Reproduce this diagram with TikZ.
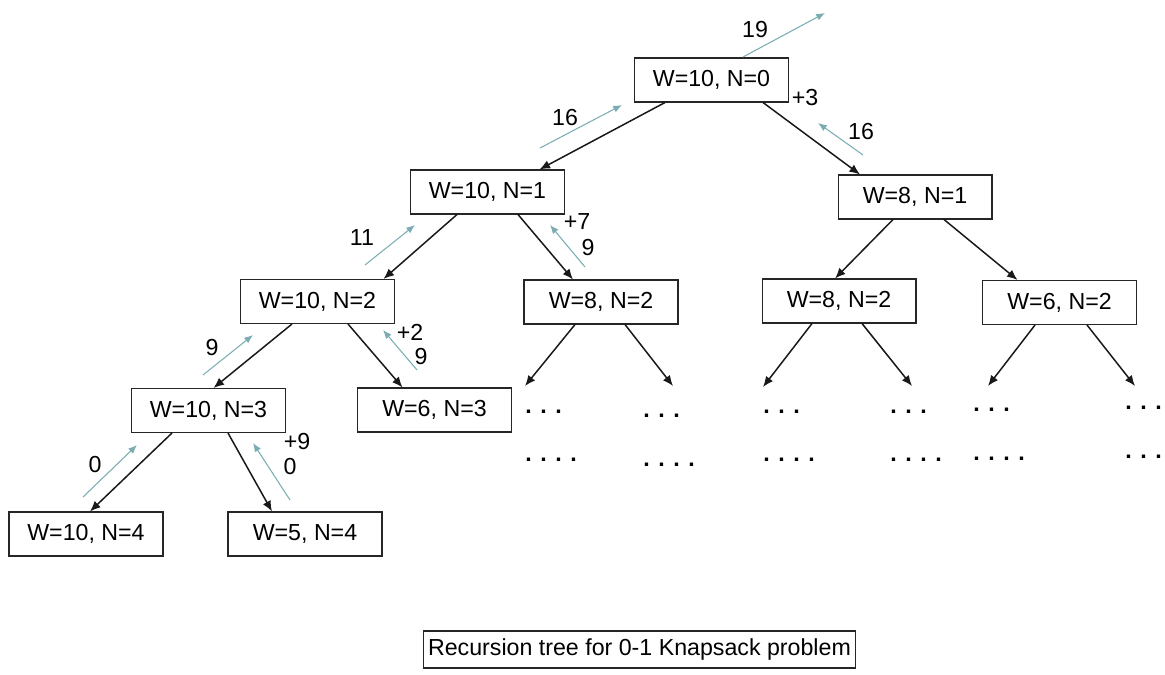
\documentclass[tikz,border=0pt]{standalone}
\usepackage{fontspec}
\setmainfont{Liberation Sans}
\usetikzlibrary{calc,arrows.meta}
\definecolor{backteal}{RGB}{122,172,178}

\begin{document}
\begin{tikzpicture}[x=0.02cm, y=-0.02cm,
    state/.style={draw=black!85, line width=0.6pt, minimum width=3.08cm, minimum height=0.88cm, inner sep=0pt, font=\fontsize{13.2}{16}\selectfont},
    val/.style={inner sep=0pt, font=\fontsize{13.2}{16}\selectfont},
    dots/.style={anchor=base west, inner sep=0pt, font=\fontsize{13.2}{16}\selectfont\bfseries},
    edge/.style={-{Latex[length=6pt,width=5pt]}, line width=0.85pt, black!90},
    back/.style={-{Latex[length=5pt,width=4pt]}, line width=0.6pt, backteal}]
    \useasboundingbox (0,0) rectangle (1165,675);

    \node[state] (root) at (711.5, 80) {W=10, N=0};

    \node[state] (n1l) at (487.5, 192) {W=10, N=1};
    \node[state] (n1r) at (915, 197) {W=8, N=1};

    \node[state] (n2a) at (317.5, 301.5) {W=10, N=2};
    \node[state] (n2b) at (601, 302) {W=8, N=2};
    \node[state] (n2c) at (839, 301) {W=8, N=2};
    \node[state] (n2d) at (1059.5, 302.5) {W=6, N=2};

    \node[state] (n3a) at (208.5, 410.5) {W=10, N=3};
    \node[state] (n3b) at (434.5, 410) {W=6, N=3};

    \node[state] (n4a) at (86, 534) {W=10, N=4};
    \node[state] (n4b) at (305, 534) {W=5, N=4};

    \node[draw=black!85, line width=0.6pt, minimum width=8.66cm, minimum height=0.74cm, val] (caption) at (639.5, 649.5) {Recursion tree for 0-1 Knapsack problem};

    % unexpanded subtrees
    \node[dots] (d1) at (525, 413) {. . .};
    \node[dots] (d2) at (643, 417) {. . .};
    \node[dots] (d3) at (763, 413) {. . .};
    \node[dots] (d4) at (890, 413) {. . .};
    \node[dots] (d5) at (973, 411) {. . .};
    \node[dots] (d6) at (1125, 409) {. . .};
    \node[dots] (e1) at (525, 461) {. . . .};
    \node[dots] (e2) at (643, 466) {. . . .};
    \node[dots] (e3) at (763, 461) {. . . .};
    \node[dots] (e4) at (890, 461) {. . . .};
    \node[dots] (e5) at (973, 460) {. . . .};
    \node[dots] (e6) at (1125, 458) {. . .};

    \coordinate (t1) at (525, 386);
    \coordinate (t2) at (673, 386);
    \coordinate (t3) at (763, 387);
    \coordinate (t4) at (912, 386);
    \coordinate (t5) at (988, 386);
    \coordinate (t6) at (1135, 386);

    % calls
    \draw[edge] ($(root.south)+(-46.5,0)$) -- ($(n1l.north)+(52,0)$);
    \draw[edge] ($(root.south)+(51.5,0)$) -- ($(n1r.north)+(-55,0)$);
    \draw[edge] ($(n1l.south)+(-30.5,0)$) -- ($(n2a.north)+(66,0)$);
    \draw[edge] ($(n1l.south)+(30.5,0)$) -- ($(n2b.north)+(-28,0)$);
    \draw[edge] ($(n1r.south)+(-22,0)$) -- ($(n2c.north)+(-4,0)$);
    \draw[edge] ($(n1r.south)+(29,0)$) -- ($(n2d.north)+(-42,0)$);
    \draw[edge] ($(n2a.south)+(-25.5,0)$) -- ($(n3a.north)+(5,0)$);
    \draw[edge] ($(n2a.south)+(30.5,0)$) -- ($(n3b.north)+(-32,0)$);
    \draw[edge] ($(n3a.south)+(-36.5,0)$) -- ($(n4a.north)+(4,0)$);
    \draw[edge] ($(n3a.south)+(19.5,0)$) -- ($(n4b.north)+(-33,0)$);
    \draw[edge] ($(n2b.south)+(-26,0)$) -- (t1);
    \draw[edge] ($(n2b.south)+(24,0)$) -- (t2);
    \draw[edge] ($(n2c.south)+(-27,0)$) -- (t3);
    \draw[edge] ($(n2c.south)+(23,0)$) -- (t4);
    \draw[edge] ($(n2d.south)+(-24.5,0)$) -- (t5);
    \draw[edge] ($(n2d.south)+(27.5,0)$) -- (t6);

    % returned values
    \coordinate (r0a) at (743, 57);  \coordinate (r0b) at (825, 13);
    \coordinate (r1a) at (540, 148); \coordinate (r1b) at (622, 105);
    \coordinate (r2a) at (863, 155); \coordinate (r2b) at (818, 123);
    \coordinate (r3a) at (365, 265); \coordinate (r3b) at (415, 225);
    \coordinate (r4a) at (585, 267); \coordinate (r4b) at (550, 225);
    \coordinate (r5a) at (203, 375); \coordinate (r5b) at (253, 335);
    \coordinate (r6a) at (417, 370); \coordinate (r6b) at (383, 330);
    \coordinate (r7a) at (83, 497);  \coordinate (r7b) at (137, 445);
    \coordinate (r8a) at (290, 500); \coordinate (r8b) at (253, 443);

    \draw[back] (r0a) -- (r0b);
    \draw[back] (r1a) -- (r1b);
    \draw[back] (r2a) -- (r2b);
    \draw[back] (r3a) -- (r3b);
    \draw[back] (r4a) -- (r4b);
    \draw[back] (r5a) -- (r5b);
    \draw[back] (r6a) -- (r6b);
    \draw[back] (r7a) -- (r7b);
    \draw[back] (r8a) -- (r8b);

    \node[val] (v0) at (755, 30) {19};
    \node[val] (v1) at (565, 118) {16};
    \node[val] (v2) at (861, 132) {16};
    \node[val] (p2) at (805, 98) {+3};
    \node[val] (v3) at (362, 238) {11};
    \node[val] (p4) at (577, 222) {+7};
    \node[val] (v4) at (588, 248) {9};
    \node[val] (v5) at (212, 348) {9};
    \node[val] (p6) at (410, 332) {+2};
    \node[val] (v6) at (421, 357) {9};
    \node[val] (v7) at (95, 465) {0};
    \node[val] (p8) at (297, 442) {+9};
    \node[val] (v8) at (290, 467) {0};
\end{tikzpicture}
\end{document}
